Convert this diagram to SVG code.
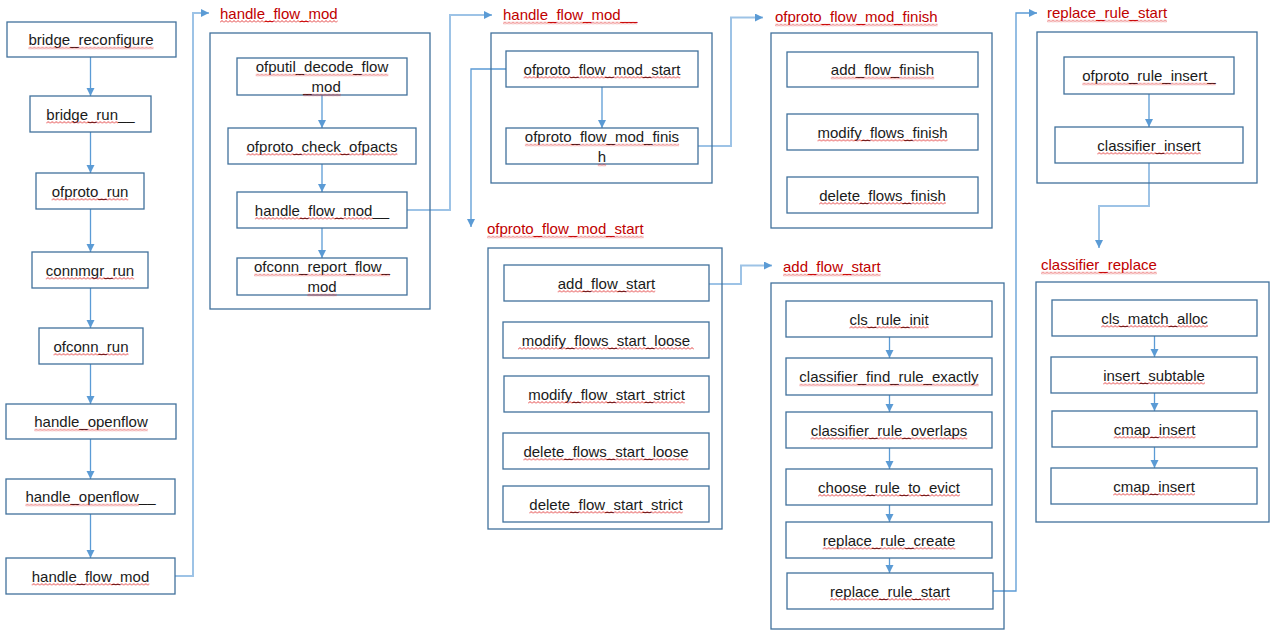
<svg xmlns="http://www.w3.org/2000/svg" width="1277" height="637" viewBox="0 0 1277 637">
  <style>
    .box { fill: #ffffff; stroke: #41719c; stroke-width: 1.3; }
    .frame { fill: none; stroke: #41719c; stroke-width: 1.3; }
    text { font-family: "Liberation Sans", Arial, sans-serif; font-size: 15px; fill: #1a1a1a; }
    .t { text-anchor: middle; }
    .lbl { fill: #c00000; }
    .sq { fill: url(#wave); }
    .step { fill: none; stroke: #5b9bd5; stroke-width: 1.3; marker-end: url(#head); }
    .link { fill: none; stroke: #9dc3e6; stroke-width: 2; marker-end: url(#head); }
    .link2 { fill: none; stroke: #5b9bd5; stroke-width: 1.3; marker-end: url(#head); }
  </style>
  <defs>
    <marker id="head" markerUnits="userSpaceOnUse" markerWidth="9" markerHeight="9" refX="8" refY="4" orient="auto">
      <path d="M0,0 L8,4 L0,8 z" fill="#5b9bd5"/>
    </marker>
    <!-- red wavy spell-check squiggle, tiled along a 3px strip -->
    <pattern id="wave" patternUnits="userSpaceOnUse" width="4" height="3">
      <path d="M0,2.5 L2,0.5 L4,2.5" fill="none" stroke="#e02828" stroke-width="0.9"/>
    </pattern>
  </defs>
  <rect width="1277" height="637" fill="#ffffff"/>

  <!-- connectors -->
  <g id="connectors">
    <!-- main call chain -->
    <line class="step" x1="90.5" y1="57" x2="90.5" y2="96"/>
    <line class="step" x1="90.5" y1="132" x2="90.5" y2="173"/>
    <line class="step" x1="90.5" y1="209" x2="90.5" y2="252"/>
    <line class="step" x1="90.5" y1="288" x2="90.5" y2="328"/>
    <line class="step" x1="90.5" y1="364" x2="90.5" y2="404"/>
    <line class="step" x1="90.5" y1="439" x2="90.5" y2="479"/>
    <line class="step" x1="90.5" y1="514" x2="90.5" y2="558"/>
    <!-- handle_flow_mod body -->
    <line class="step" x1="322" y1="95" x2="322" y2="128"/>
    <line class="step" x1="322" y1="164" x2="322" y2="192"/>
    <line class="step" x1="322" y1="228" x2="322" y2="258"/>
    <!-- handle_flow_mod__ body -->
    <line class="step" x1="602" y1="87" x2="602" y2="128"/>
    <!-- add_flow_start body -->
    <line class="step" x1="889.5" y1="337" x2="889.5" y2="358"/>
    <line class="step" x1="889.5" y1="395" x2="889.5" y2="412"/>
    <line class="step" x1="889.5" y1="448" x2="889.5" y2="469"/>
    <line class="step" x1="889.5" y1="505" x2="889.5" y2="522"/>
    <line class="step" x1="889.5" y1="558" x2="889.5" y2="573"/>
    <!-- replace_rule_start body -->
    <line class="step" x1="1149" y1="94" x2="1149" y2="127"/>
    <!-- classifier_replace body -->
    <line class="step" x1="1154.5" y1="336" x2="1154.5" y2="357"/>
    <line class="step" x1="1154.5" y1="393" x2="1154.5" y2="411"/>
    <line class="step" x1="1154.5" y1="447" x2="1154.5" y2="468"/>
    <!-- calls into expanded functions -->
    <polyline class="link" points="175,576 193,576 193,13 209,13"/>
    <polyline class="link" points="407,210 450,210 450,15 492,15"/>
    <polyline class="link2" points="506,69 471,69 471,227"/>
    <polyline class="link" points="698,146 731,146 731,17.5 763,17.5"/>
    <polyline class="link" points="709,284 741,284 741,265.5 772,265.5"/>
    <polyline class="link2" points="993,591 1016,591 1016,13 1037,13"/>
    <polyline class="link" points="1149,163 1149,206 1099,206 1099,248"/>
  </g>

  <!-- main call chain -->
  <g id="bridge_reconfigure"><rect class="box" x="7" y="22" width="169" height="35"/><text class="t" x="91" y="45">bridge_reconfigure</text><rect class="sq" transform="translate(28.4,46.5)" width="125.1" height="3"/></g>
  <g id="bridge_run__"><rect class="box" x="30" y="96" width="121" height="36"/><text class="t" x="90.5" y="119.5">bridge_run__</text><rect class="sq" transform="translate(46.3,121)" width="71.7" height="3"/></g>
  <g id="ofproto_run"><rect class="box" x="36" y="173" width="108" height="36"/><text class="t" x="90" y="196.5">ofproto_run</text><rect class="sq" transform="translate(51.6,198)" width="76.7" height="3"/></g>
  <g id="connmgr_run"><rect class="box" x="32" y="252" width="116" height="36"/><text class="t" x="90" y="275.5">connmgr_run</text><rect class="sq" transform="translate(45.8,277)" width="88.4" height="3"/></g>
  <g id="ofconn_run"><rect class="box" x="39" y="328" width="104" height="36"/><text class="t" x="91" y="351.5">ofconn_run</text><rect class="sq" transform="translate(53.5,353)" width="75" height="3"/></g>
  <g id="handle_openflow"><rect class="box" x="6" y="404" width="170" height="35"/><text class="t" x="91" y="427">handle_openflow</text><rect class="sq" transform="translate(34.3,428.5)" width="113.4" height="3"/></g>
  <g id="handle_openflow__"><rect class="box" x="6" y="479" width="169" height="35"/><text class="t" x="90.5" y="502">handle_openflow__</text><rect class="sq" transform="translate(25.4,503.5)" width="113.4" height="3"/></g>
  <g id="handle_flow_mod"><rect class="box" x="6" y="558" width="169" height="36"/><text class="t" x="90.5" y="581.5">handle_flow_mod</text><rect class="sq" transform="translate(31.7,583)" width="117.6" height="3"/></g>

  <!-- handle_flow_mod -->
  <g id="grp_handle_flow_mod">
    <text class="lbl" x="220" y="18.5">handle_flow_mod</text><rect class="sq" transform="translate(220,20)" width="117.6" height="3"/>
    <rect class="frame" x="210" y="33" width="220" height="276"/>
  </g>
  <g id="ofputil_decode_flow_mod"><rect class="box" x="237" y="58" width="170" height="37"/><text class="t" x="322" y="72">ofputil_decode_flow</text><text class="t" x="322" y="92">_mod</text><rect class="sq" transform="translate(255.7,73.5)" width="132.6" height="3"/><rect class="sq" transform="translate(303.2,93.5)" width="37.5" height="3"/></g>
  <g id="ofproto_check_ofpacts"><rect class="box" x="228" y="128" width="188" height="36"/><text class="t" x="322" y="151.5">ofproto_check_ofpacts</text><rect class="sq" transform="translate(246.5,153)" width="150.9" height="3"/></g>
  <g id="handle_flow_mod__"><rect class="box" x="237" y="192" width="170" height="36"/><text class="t" x="322" y="215.5">handle_flow_mod__</text><rect class="sq" transform="translate(254.9,217)" width="117.6" height="3"/></g>
  <g id="ofconn_report_flow_mod"><rect class="box" x="237" y="258" width="170" height="37"/><text class="t" x="322" y="272">ofconn_report_flow_</text><text class="t" x="322" y="292">mod</text><rect class="sq" transform="translate(254,273.5)" width="135.9" height="3"/><rect class="sq" transform="translate(307.4,293.5)" width="29.2" height="3"/></g>

  <!-- handle_flow_mod__ -->
  <g id="grp_handle_flow_mod__">
    <text class="lbl" x="503" y="20">handle_flow_mod__</text><rect class="sq" transform="translate(503,21.5)" width="134.2" height="3"/>
    <rect class="frame" x="491" y="33" width="221" height="150"/>
  </g>
  <g id="ofproto_flow_mod_start"><rect class="box" x="506" y="51" width="192" height="36"/><text class="t" x="602" y="74.5">ofproto_flow_mod_start</text><rect class="sq" transform="translate(523.6,76)" width="156.7" height="3"/></g>
  <g id="ofproto_flow_mod_finish"><rect class="box" x="506" y="128" width="192" height="36"/><text class="t" x="602" y="142">ofproto_flow_mod_finis</text><text class="t" x="602" y="162">h</text><rect class="sq" transform="translate(524.9,143.5)" width="154.2" height="3"/><rect class="sq" transform="translate(597.8,163.5)" width="8.3" height="3"/></g>

  <!-- ofproto_flow_mod_finish -->
  <g id="grp_ofproto_flow_mod_finish">
    <text class="lbl" x="775" y="22">ofproto_flow_mod_finish</text><rect class="sq" transform="translate(775,23.5)" width="162.6" height="3"/>
    <rect class="frame" x="771" y="33" width="221" height="195"/>
  </g>
  <g id="add_flow_finish"><rect class="box" x="787" y="52" width="191" height="35"/><text class="t" x="882.5" y="75">add_flow_finish</text><rect class="sq" transform="translate(830.8,76.5)" width="103.4" height="3"/></g>
  <g id="modify_flows_finish"><rect class="box" x="787" y="114" width="191" height="36"/><text class="t" x="882.5" y="137.5">modify_flows_finish</text><rect class="sq" transform="translate(817.5,139)" width="130" height="3"/></g>
  <g id="delete_flows_finish"><rect class="box" x="787" y="177" width="191" height="36"/><text class="t" x="882.5" y="200.5">delete_flows_finish</text><rect class="sq" transform="translate(819.1,202)" width="126.7" height="3"/></g>

  <!-- ofproto_flow_mod_start -->
  <g id="grp_ofproto_flow_mod_start">
    <text class="lbl" x="487" y="234">ofproto_flow_mod_start</text><rect class="sq" transform="translate(487,235.5)" width="156.7" height="3"/>
    <rect class="frame" x="488" y="248" width="234" height="281"/>
  </g>
  <g id="add_flow_start"><rect class="box" x="504" y="265" width="205" height="36"/><text class="t" x="606.5" y="288.5">add_flow_start</text><rect class="sq" transform="translate(557.7,290)" width="97.5" height="3"/></g>
  <g id="modify_flows_start_loose"><rect class="box" x="503" y="322" width="206" height="36"/><text class="t" x="606" y="345.5">modify_flows_start_loose</text><rect class="sq" transform="translate(518,347)" width="175.9" height="3"/></g>
  <g id="modify_flow_start_strict"><rect class="box" x="504" y="376" width="205" height="36"/><text class="t" x="606.5" y="399.5">modify_flow_start_strict</text><rect class="sq" transform="translate(528.1,401)" width="156.7" height="3"/></g>
  <g id="delete_flows_start_loose"><rect class="box" x="503" y="433" width="206" height="36"/><text class="t" x="606" y="456.5">delete_flows_start_loose</text><rect class="sq" transform="translate(523.4,458)" width="165.1" height="3"/></g>
  <g id="delete_flow_start_strict"><rect class="box" x="503" y="486" width="206" height="36"/><text class="t" x="606" y="509.5">delete_flow_start_strict</text><rect class="sq" transform="translate(529.3,511)" width="153.4" height="3"/></g>

  <!-- add_flow_start -->
  <g id="grp_add_flow_start">
    <text class="lbl" x="783" y="272">add_flow_start</text><rect class="sq" transform="translate(783,273.5)" width="97.5" height="3"/>
    <rect class="frame" x="771" y="283" width="233" height="346"/>
  </g>
  <g id="cls_rule_init"><rect class="box" x="786" y="301" width="206" height="36"/><text class="t" x="889" y="324.5">cls_rule_init</text><rect class="sq" transform="translate(849.4,326)" width="79.2" height="3"/></g>
  <g id="classifier_find_rule_exactly"><rect class="box" x="786" y="358" width="206" height="37"/><text class="t" x="889" y="382">classifier_find_rule_exactly</text><rect class="sq" transform="translate(799.4,383.5)" width="179.2" height="3"/></g>
  <g id="classifier_rule_overlaps"><rect class="box" x="786" y="412" width="206" height="36"/><text class="t" x="889" y="435.5">classifier_rule_overlaps</text><rect class="sq" transform="translate(810.6,437)" width="156.7" height="3"/></g>
  <g id="choose_rule_to_evict"><rect class="box" x="786" y="469" width="206" height="36"/><text class="t" x="889" y="492.5">choose_rule_to_evict</text><rect class="sq" transform="translate(818.1,494)" width="141.7" height="3"/></g>
  <g id="replace_rule_create"><rect class="box" x="786" y="522" width="206" height="36"/><text class="t" x="889" y="545.5">replace_rule_create</text><rect class="sq" transform="translate(822.7,547)" width="132.6" height="3"/></g>
  <g id="replace_rule_start"><rect class="box" x="787" y="573" width="206" height="36"/><text class="t" x="890" y="596.5">replace_rule_start</text><rect class="sq" transform="translate(830,598)" width="120" height="3"/></g>

  <!-- replace_rule_start -->
  <g id="grp_replace_rule_start">
    <text class="lbl" x="1047" y="18">replace_rule_start</text><rect class="sq" transform="translate(1047,19.5)" width="120" height="3"/>
    <rect class="frame" x="1037" y="32" width="220" height="151"/>
  </g>
  <g id="ofproto_rule_insert_"><rect class="box" x="1064" y="57" width="170" height="37"/><text class="t" x="1149" y="81">ofproto_rule_insert_</text><rect class="sq" transform="translate(1082.3,82.5)" width="133.4" height="3"/></g>
  <g id="classifier_insert"><rect class="box" x="1055" y="127" width="188" height="36"/><text class="t" x="1149" y="150.5">classifier_insert</text><rect class="sq" transform="translate(1097.3,152)" width="103.4" height="3"/></g>

  <!-- classifier_replace -->
  <g id="grp_classifier_replace">
    <text class="lbl" x="1041" y="270">classifier_replace</text><rect class="sq" transform="translate(1041,271.5)" width="115.9" height="3"/>
    <rect class="frame" x="1036" y="282" width="233" height="240"/>
  </g>
  <g id="cls_match_alloc"><rect class="box" x="1052" y="300" width="205" height="36"/><text class="t" x="1154.5" y="323.5">cls_match_alloc</text><rect class="sq" transform="translate(1101.2,325)" width="106.7" height="3"/></g>
  <g id="insert_subtable"><rect class="box" x="1051" y="357" width="206" height="36"/><text class="t" x="1154" y="380.5">insert_subtable</text><rect class="sq" transform="translate(1103.2,382)" width="101.7" height="3"/></g>
  <g id="cmap_insert_1"><rect class="box" x="1052" y="411" width="205" height="36"/><text class="t" x="1154.5" y="434.5">cmap_insert</text><rect class="sq" transform="translate(1113.7,436)" width="81.7" height="3"/></g>
  <g id="cmap_insert_2"><rect class="box" x="1051" y="468" width="206" height="36"/><text class="t" x="1154" y="491.5">cmap_insert</text><rect class="sq" transform="translate(1113.2,493)" width="81.7" height="3"/></g>
</svg>
